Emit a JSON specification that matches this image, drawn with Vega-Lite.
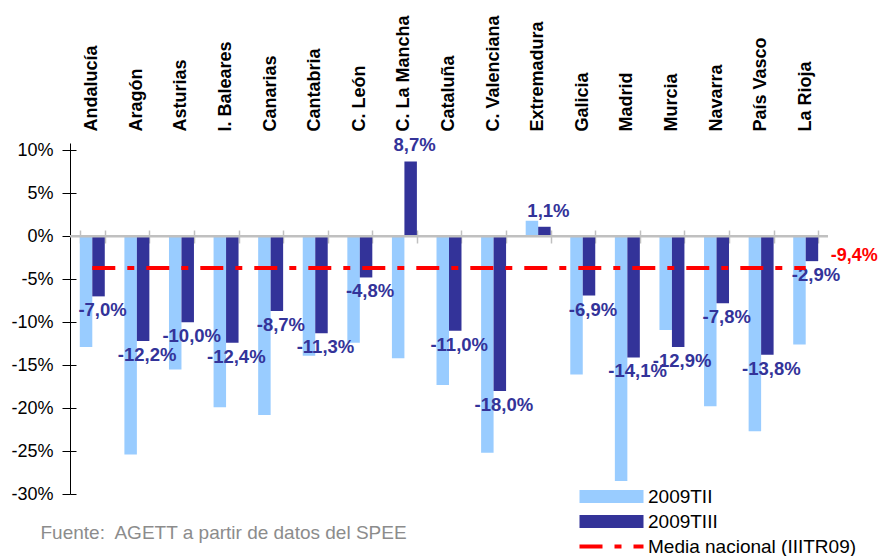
{
  "$schema": "https://vega.github.io/schema/vega-lite/v6.json",
  "width": 758,
  "height": 351,
  "autosize": {"type": "none"},
  "padding": {"left": 70, "top": 143, "right": 52, "bottom": 62},
  "background": "white",
  "config": {
    "font": "Liberation Sans",
    "view": {"stroke": null},
    "locale": {"number": {"decimal": ",", "thousands": ".", "grouping": [3], "currency": ["", " €"], "minus": "-"}}
  },
  "datasets": {
    "bars": [
      {"region": "Andalucía", "series": "2009TII", "value": -0.129},
      {"region": "Aragón", "series": "2009TII", "value": -0.254},
      {"region": "Asturias", "series": "2009TII", "value": -0.155},
      {"region": "I. Baleares", "series": "2009TII", "value": -0.199},
      {"region": "Canarias", "series": "2009TII", "value": -0.208},
      {"region": "Cantabria", "series": "2009TII", "value": -0.139},
      {"region": "C. León", "series": "2009TII", "value": -0.124},
      {"region": "C. La Mancha", "series": "2009TII", "value": -0.142},
      {"region": "Cataluña", "series": "2009TII", "value": -0.173},
      {"region": "C. Valenciana", "series": "2009TII", "value": -0.252},
      {"region": "Extremadura", "series": "2009TII", "value": 0.018},
      {"region": "Galicia", "series": "2009TII", "value": -0.161},
      {"region": "Madrid", "series": "2009TII", "value": -0.285},
      {"region": "Murcia", "series": "2009TII", "value": -0.109},
      {"region": "Navarra", "series": "2009TII", "value": -0.198},
      {"region": "País Vasco", "series": "2009TII", "value": -0.227},
      {"region": "La Rioja", "series": "2009TII", "value": -0.126},
      {"region": "Andalucía", "series": "2009TIII", "value": -0.070},
      {"region": "Aragón", "series": "2009TIII", "value": -0.122},
      {"region": "Asturias", "series": "2009TIII", "value": -0.100},
      {"region": "I. Baleares", "series": "2009TIII", "value": -0.124},
      {"region": "Canarias", "series": "2009TIII", "value": -0.087},
      {"region": "Cantabria", "series": "2009TIII", "value": -0.113},
      {"region": "C. León", "series": "2009TIII", "value": -0.048},
      {"region": "C. La Mancha", "series": "2009TIII", "value": 0.087},
      {"region": "Cataluña", "series": "2009TIII", "value": -0.110},
      {"region": "C. Valenciana", "series": "2009TIII", "value": -0.180},
      {"region": "Extremadura", "series": "2009TIII", "value": 0.011},
      {"region": "Galicia", "series": "2009TIII", "value": -0.069},
      {"region": "Madrid", "series": "2009TIII", "value": -0.141},
      {"region": "Murcia", "series": "2009TIII", "value": -0.129},
      {"region": "Navarra", "series": "2009TIII", "value": -0.078},
      {"region": "País Vasco", "series": "2009TIII", "value": -0.138},
      {"region": "La Rioja", "series": "2009TIII", "value": -0.029}
    ],
    "mean": [
      {"start": "Andalucía", "end": "La Rioja", "value": -0.037, "media": -0.094, "series": "Media nacional (IIITR09)"}
    ]
  },
  "layer": [
    {
      "data": {"name": "bars"},
      "mark": {"type": "bar"},
      "encoding": {
        "x": {
          "field": "region", "type": "nominal", "sort": null,
          "scale": {
            "domain": ["Andalucía", "Aragón", "Asturias", "I. Baleares", "Canarias", "Cantabria", "C. León", "C. La Mancha", "Cataluña", "C. Valenciana", "Extremadura", "Galicia", "Madrid", "Murcia", "Navarra", "País Vasco", "La Rioja"],
            "paddingInner": 0.44, "paddingOuter": 0.22
          },
          "axis": {
            "orient": "top", "title": null, "ticks": false, "tickSize": 0, "domain": false,
            "labelAngle": 270, "labelAlign": "left", "labelBaseline": "middle",
            "labelPadding": 12, "labelFontSize": 18, "labelFontWeight": "bold",
            "labelColor": "#000000", "labelLimit": 300
          }
        },
        "xOffset": {"field": "series", "type": "nominal", "scale": {"domain": ["2009TII", "2009TIII"], "paddingInner": 0, "paddingOuter": 0}},
        "y": {
          "field": "value", "type": "quantitative",
          "scale": {"domain": [-0.30, 0.1085], "nice": false, "zero": false},
          "axis": {
            "orient": "left", "title": null, "grid": false,
            "values": [-0.30, -0.25, -0.20, -0.15, -0.10, -0.05, 0, 0.05, 0.10],
            "format": ".0%", "domainColor": "#000000", "domainWidth": 1,
            "tickColor": "#000000", "tickSize": 8, "tickWidth": 1,
            "labelFontSize": 18, "labelColor": "#000000", "labelPadding": 9
          }
        },
        "color": {
          "field": "series", "type": "nominal",
          "scale": {"domain": ["2009TII", "2009TIII", "Media nacional (IIITR09)"], "range": ["#99CCFF", "#333399", "#FF0000"]},
          "legend": {
            "orient": "none", "legendX": 532, "legendY": 344, "title": null,
            "padding": 0, "symbolType": "M-3.2,-0.65H3.2V0.65H-3.2Z", "symbolSize": 400,
            "labelFontSize": 19, "labelColor": "#000000", "labelOffset": 27, "rowPadding": 5,
            "labelLimit": 400,
            "encode": {
              "symbols": {
                "update": {
                  "shape": {"signal": "datum.value === 'Media nacional (IIITR09)' ? 'M-3.2,0H3.2' : 'M-3.2,-0.65H3.2V0.65H-3.2Z'"},
                  "fill": {"signal": "datum.value === 'Media nacional (IIITR09)' ? 'transparent' : scale('color', datum.value)"},
                  "stroke": {"signal": "datum.value === 'Media nacional (IIITR09)' ? scale('color', datum.value) : 'transparent'"},
                  "strokeWidth": {"signal": "datum.value === 'Media nacional (IIITR09)' ? 4 : 0"},
                  "strokeDash": {"signal": "datum.value === 'Media nacional (IIITR09)' ? [23, 12, 7, 12] : [1, 0]"},
                  "opacity": {"value": 1}
                }
              }
            }
          }
        }
      }
    },
    {
      "data": {"name": "mean"},
      "mark": {"type": "rule", "color": "#C0C0C0", "strokeWidth": 2.5},
      "encoding": {
        "y": {"datum": 0, "type": "quantitative", "axis": null}
      }
    },
    {
      "data": {"name": "bars"},
      "transform": [{"filter": "datum.series === '2009TIII' && datum.value < 0"}],
      "mark": {"type": "text", "fontSize": 18.5, "fontWeight": "bold", "color": "#333399", "baseline": "middle", "align": "center", "dx": 4, "dy": 14},
      "encoding": {
        "x": {
          "field": "region", "type": "nominal", "sort": null,
          "axis": {
            "orient": "bottom", "offset": -264, "labels": false, "domain": false,
            "ticks": true, "tickBand": "extent", "tickSize": 13, "tickColor": "#C0C0C0", "tickWidth": 1.5,
            "title": "Fuente:\u00a0 AGETT a partir de datos del SPEE",
            "titleFontSize": 19, "titleFontWeight": "normal", "titleColor": "#8c8c8c",
            "titleAnchor": "start", "titleAlign": "left", "titleBaseline": "alphabetic",
            "titleX": -30, "titleY": 308, "titleAngle": 0
          }
        },
        "xOffset": {"field": "series", "type": "nominal"},
        "y": {
          "field": "value", "type": "quantitative",
          "axis": {
            "orient": "right", "offset": -758, "title": null, "labels": false, "domain": false, "grid": false,
            "values": [-0.30, -0.25, -0.20, -0.15, -0.10, -0.05, 0, 0.05, 0.10],
            "tickColor": "#000000", "tickSize": 6, "tickWidth": 1
          }
        },
        "text": {"field": "value", "type": "quantitative", "format": ".1%"}
      }
    },
    {
      "data": {"name": "bars"},
      "transform": [{"filter": "datum.series === '2009TIII' && datum.value >= 0"}],
      "mark": {"type": "text", "fontSize": 18.5, "fontWeight": "bold", "color": "#333399", "baseline": "middle", "align": "center", "dx": 4, "dy": -16},
      "encoding": {
        "x": {"field": "region", "type": "nominal", "sort": null, "axis": null},
        "xOffset": {"field": "series", "type": "nominal"},
        "y": {"field": "value", "type": "quantitative", "axis": null},
        "text": {"field": "value", "type": "quantitative", "format": ".1%"}
      }
    },
    {
      "data": {"name": "mean"},
      "mark": {"type": "rule", "strokeWidth": 4, "strokeDash": [23, 12, 7, 12], "strokeCap": "butt"},
      "encoding": {
        "x": {"field": "start", "type": "nominal", "axis": null},
        "x2": {"field": "end"},
        "y": {"field": "value", "type": "quantitative", "axis": null},
        "color": {"field": "series", "type": "nominal"}
      }
    },
    {
      "data": {"name": "mean"},
      "mark": {"type": "text", "fontSize": 18, "fontWeight": "bold", "color": "#FF0000", "align": "left", "baseline": "middle", "dx": 25, "dy": -12},
      "encoding": {
        "x": {"field": "end", "type": "nominal", "axis": null},
        "y": {"field": "value", "type": "quantitative", "axis": null},
        "text": {"field": "media", "type": "quantitative", "format": ".1%"}
      }
    }
  ],
  "resolve": {"axis": {"x": "independent", "y": "independent"}}
}
